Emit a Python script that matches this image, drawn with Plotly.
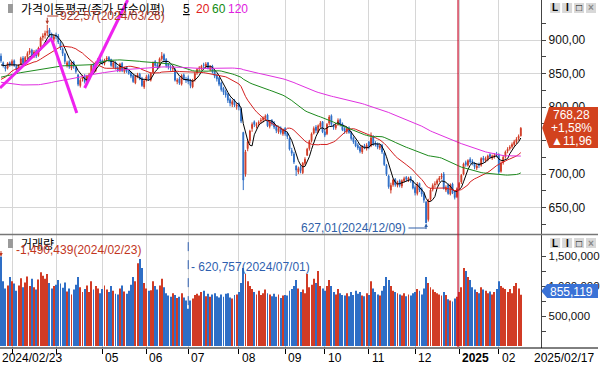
import plotly.graph_objects as go
import pandas as pd

# ---------------- data ----------------
holidays = ['2024-03-01', '2024-04-10', '2024-05-01', '2024-05-06', '2024-05-15', '2024-06-06',
            '2024-08-15', '2024-09-16', '2024-09-17', '2024-09-18', '2024-10-01', '2024-10-03',
            '2024-10-09', '2024-12-25', '2024-12-31', '2025-01-01', '2025-01-27', '2025-01-28',
            '2025-01-29', '2025-01-30']
first_day, last_day = '2024-02-23', '2025-02-17'

opens = [876, 866, 860, 858, 866, 864, 869, 861, 855, 864,
         873, 866, 875, 881, 885, 876, 884, 877, 890, 904,
         907, 911, 915, 909, 901, 907, 906, 896, 887, 879,
         862, 868, 858, 867, 859, 848, 832, 842, 846, 836,
         845, 849, 863, 854, 867, 871, 869, 865, 871, 874,
         871, 860, 867, 859, 854, 865, 853, 860, 854, 851,
         847, 836, 845, 849, 843, 830, 840, 847, 840, 852,
         868, 863, 860, 872, 878, 871, 864, 859, 857, 856,
         838, 842, 834, 848, 841, 843, 840, 830, 841, 851,
         857, 858, 863, 861, 866, 856, 861, 853, 847, 843,
         836, 828, 823, 819, 811, 804, 810, 801, 805, 797,
         762, 700, 738, 750, 768, 778, 772, 775, 779, 781,
         784, 788, 771, 780, 776, 771, 763, 769, 760, 768,
         761, 753, 735, 730, 712, 703, 710, 702, 716, 728,
         738, 750, 761, 770, 763, 771, 778, 763, 760, 776,
         787, 772, 769, 774, 781, 775, 768, 763, 769, 762,
         754, 749, 743, 740, 733, 742, 738, 748, 742, 756,
         746, 745, 739, 743, 731, 713, 697, 676, 684, 692,
         683, 690, 682, 690, 695, 691, 695, 689, 680, 671,
         686, 678, 670, 658, 632, 662, 677, 684, 686, 691,
         695, 700, 676, 683, 670, 685, 673, 666, 680, 688,
         700, 717, 713, 722, 719, 716, 709, 714, 713, 724,
         720, 722, 729, 724, 726, 730, 729, 704, 717, 726,
         734, 738, 741, 744, 748, 753, 757]
highs = [880, 868, 863, 867, 868, 871, 871, 863, 864, 875,
         876, 876, 883, 888, 887, 885, 886, 890, 905, 910,
         914, 922.57, 918, 911, 908, 911, 909, 898, 889, 881,
         869, 870, 868, 869, 861, 849, 843, 848, 849, 848,
         851, 864, 865, 868, 873, 874, 871, 872, 876, 876,
         872, 868, 868, 861, 866, 867, 860, 861, 857, 853,
         849, 848, 851, 851, 845, 841, 848, 849, 852, 868,
         870, 866, 874, 882, 880, 873, 866, 863, 861, 858,
         843, 845, 849, 850, 845, 847, 842, 842, 852, 858,
         861, 863, 866, 867, 867, 862, 863, 855, 849, 845,
         838, 830, 826, 821, 814, 811, 812, 806, 807, 799,
         763, 736, 752, 766, 777, 780, 777, 780, 784, 786,
         789, 790, 780, 782, 779, 773, 770, 771, 768, 770,
         763, 755, 739, 733, 713, 711, 713, 718, 725, 739,
         751, 762, 771, 773, 774, 779, 779, 766, 776, 788,
         789, 775, 776, 783, 783, 777, 770, 770, 771, 764,
         756, 751, 746, 742, 743, 745, 746, 749, 762, 758,
         749, 747, 745, 745, 733, 715, 699, 687, 693, 694,
         690, 692, 692, 696, 697, 696, 697, 691, 683, 688,
         687, 680, 673, 660, 663, 679, 686, 689, 693, 697,
         701, 703, 683, 686, 686, 687, 675, 680, 688, 700,
         717, 720, 722, 725, 722, 718, 715, 717, 725, 727,
         726, 729, 731, 729, 731, 733, 731, 719, 728, 735,
         740, 743, 747, 751, 755, 759, 770]
lows = [866, 859, 853, 856, 860, 861, 860, 852, 853, 862,
        863, 864, 872, 878, 874, 873, 873, 875, 887, 899,
        902, 906, 904, 899, 897, 901, 894, 885, 876, 864,
        859, 857, 855, 857, 850, 831, 829, 838, 835, 834,
        843, 847, 853, 852, 864, 865, 863, 862, 868, 867,
        860, 858, 856, 852, 852, 852, 850, 851, 848, 843,
        836, 834, 843, 840, 830, 827, 838, 839, 838, 850,
        860, 857, 858, 869, 867, 859, 856, 854, 853, 838,
        834, 833, 832, 840, 836, 834, 828, 828, 838, 848,
        853, 855, 858, 858, 856, 853, 850, 843, 838, 831,
        823, 818, 814, 806, 801, 800, 800, 796, 795, 776,
        676, 696, 734, 746, 763, 770, 768, 771, 775, 777,
        780, 770, 768, 772, 767, 761, 760, 759, 757, 757,
        752, 735, 727, 715, 697, 700, 701, 700, 713, 727,
        735, 747, 759, 761, 761, 769, 761, 755, 758, 773,
        771, 766, 766, 772, 771, 764, 760, 760, 760, 750,
        745, 740, 736, 731, 730, 737, 735, 737, 740, 742,
        741, 737, 736, 730, 712, 697, 678, 671, 681, 681,
        680, 680, 679, 687, 689, 688, 687, 677, 668, 668,
        673, 666, 657, 627.01, 629, 660, 674, 680, 683, 688,
        692, 677, 673, 669, 668, 670, 662, 664, 677, 685,
        698, 711, 711, 715, 713, 707, 706, 709, 711, 717,
        717, 719, 723, 721, 723, 725, 700, 702, 714, 723,
        731, 735, 738, 741, 745, 750, 756]
closes = [869, 862, 857, 865, 863, 868, 862, 856, 862, 872,
          866, 874, 880, 884, 877, 882, 876, 888, 903, 906,
          910, 913, 908, 903, 905, 905, 897, 888, 880, 868,
          866, 860, 866, 860, 853, 834, 840, 845, 838, 846,
          848, 862, 856, 866, 870, 868, 866, 870, 873, 870,
          862, 866, 858, 855, 864, 854, 858, 853, 850, 846,
          838, 846, 848, 842, 832, 839, 845, 842, 850, 866,
          862, 860, 872, 876, 870, 862, 860, 858, 858, 840,
          840, 836, 847, 842, 840, 838, 832, 840, 850, 856,
          858, 861, 862, 864, 858, 860, 852, 846, 842, 834,
          826, 822, 818, 810, 806, 808, 803, 803, 800, 779,
          691, 733, 748, 764, 774, 774, 774, 777, 780, 783,
          786, 772, 778, 775, 770, 765, 768, 762, 766, 760,
          756, 737, 731, 718, 706, 708, 705, 716, 722, 737,
          749, 760, 768, 765, 772, 776, 763, 758, 774, 785,
          774, 770, 773, 780, 774, 766, 764, 768, 762, 753,
          748, 742, 739, 734, 741, 740, 743, 740, 754, 745,
          744, 740, 742, 733, 714, 700, 681, 683, 691, 684,
          687, 683, 690, 693, 692, 694, 690, 679, 672, 684,
          676, 670, 661, 627.01, 661, 676, 683, 685, 690, 694,
          697, 678, 680, 671, 684, 672, 665, 678, 686, 698,
          715, 714, 720, 718, 717, 711, 712, 713, 723, 721,
          723, 727, 726, 727, 728, 728, 703, 716, 725, 733,
          737, 740, 744, 748, 752, 756.32, 768.28]
# closes before the first visible day (needed for the moving averages)
prior_closes = [925, 922, 920, 915, 918, 912, 905, 908, 896, 890, 885, 880, 882, 876, 870, 866, 860, 858, 852, 845, 843,
                830, 815, 801, 808, 812, 815, 810, 805, 812, 808, 800, 790, 780, 773, 765, 760, 750, 744, 760, 772,
                765, 776, 839, 815, 808, 805, 803, 800, 795, 800, 802, 810, 812, 808, 815, 820, 814, 818, 812, 810, 806, 808,
                810, 815, 822, 825, 830, 835, 833, 840, 845, 850, 852, 855, 852, 858, 860, 856, 862, 864, 866,
                878, 872, 875, 878, 872, 868, 860, 858, 862, 855, 850, 843, 838, 840, 845, 836, 834, 828, 835, 815, 805, 800,
                810, 825, 830, 835, 832, 840, 848, 855, 860, 858, 862, 865, 860, 858, 862]
# volume, thousands
volumes_k = [1490.439, 1080, 960, 1010, 1150, 1080, 1040, 920, 1010, 1130,
             980, 1060, 1160, 1000, 1120, 980, 940, 1110, 1230, 1170,
             1120, 1200, 1050, 960, 1000, 1020, 1100, 1040, 970, 1060,
             910, 960, 860, 940, 1020, 1150, 980, 900, 950, 1010,
             900, 1080, 940, 1000, 960, 880, 950, 1010, 940, 900,
             1000, 920, 870, 860, 960, 1010, 910, 870, 920, 1020,
             1150, 1080, 1380, 1450, 1300, 1050, 960, 920, 930, 1080,
             1000, 940, 1010, 1120, 980, 880, 840, 820, 880, 850,
             800, 820, 880, 810, 760, 620.757, 760, 790, 850, 870,
             840, 900, 920, 830, 870, 820, 860, 880, 830, 810,
             860, 820, 870, 880, 810, 790, 850, 860, 900, 1050,
             1300, 1200, 1080, 1000, 950, 900, 860, 920, 850, 880,
             940, 880, 860, 830, 870, 820, 860, 800, 840, 850,
             840, 920, 950, 1000, 1100, 960, 900, 940, 880, 1200,
             980, 1020, 1120, 1050, 1250, 1000, 960, 920, 1000, 1100,
             1000, 900, 860, 950, 880, 850, 840, 880, 830, 900,
             850, 920, 870, 900, 840, 830, 880, 850, 1080, 960,
             900, 860, 840, 920, 1000, 1150, 1100, 1000, 920, 900,
             880, 860, 840, 880, 830, 860, 840, 880, 900, 950,
             920, 860, 960, 1150, 1050, 980, 940, 900, 880, 860,
             840, 900, 850, 780, 760, 740, 790, 820, 900, 980,
             1300, 1250, 1150, 1100, 980, 940, 900, 880, 980, 940,
             920, 880, 910, 860, 900, 950, 1080, 1000, 970, 950,
             900, 950, 880, 1000, 1050, 960, 855.119]

ma_periods = [5, 20, 60, 120]
price_ticks = [650, 700, 750, 800, 850, 900]
vol_ticks = [500000, 1000000, 1500000]
month_labels = ['', '', '05', '06', '07', '08', '09', '10', '11', '12', '2025', '02']
# user-drawn trend lines: (trading-day index, price)
trendlines = [((-0.45, 828.4), (23.1, 903.0)),
              ((23.1, 900.0), (34.4, 791.0)),
              ((38.0, 828.4), (57.5, 959.7))]

# ---------------- derived ----------------
dates = [d for d in pd.bdate_range(first_day, last_day) if d.strftime('%Y-%m-%d') not in holidays]
n = len(closes)
xs = list(range(n))
month_idx = []
for i in range(1, min(n, len(dates))):
    if dates[i].month != dates[i - 1].month:
        month_idx.append(i)

allc = pd.Series(prior_closes + closes, dtype=float)
mas = {p: allc.rolling(p).mean().tolist()[-n:] for p in ma_periods}
volumes = [v * 1000 for v in volumes_k]

UP, DN = '#d13b25', '#2e6ec6'
MA_COL = {5: '#000000', 20: '#d42020', 60: '#1d8a1d', 120: '#e030e0'}
vol_cols = [UP if c >= o else DN for o, c in zip(opens, closes)]

W, H = 600, 366
BOT = 348
RIGHT = 543


def px(x):
    return x / W


def py(y):
    return (BOT - y) / BOT


def pval(y):
    return 900 - (y - 40) / 0.67


x_range = [-0.45, (RIGHT - 1) / 2.21]
price_range = [pval(234), pval(0)]
vol_range = [(346 - 348) / 60 * 1e6, (346 - 235) / 60 * 1e6]

fig = go.Figure()
fig.add_trace(go.Candlestick(
    x=xs, open=opens, high=highs, low=lows, close=closes,
    increasing=dict(line=dict(color=UP, width=1), fillcolor=UP),
    decreasing=dict(line=dict(color=DN, width=1), fillcolor=DN),
    whiskerwidth=0, xaxis='x', yaxis='y', hoverinfo='skip', showlegend=False))
for p in ma_periods:
    fig.add_trace(go.Scatter(x=xs, y=mas[p], mode='lines', line=dict(color=MA_COL[p], width=1),
                             xaxis='x', yaxis='y', hoverinfo='skip', showlegend=False))
for (a, b) in trendlines:
    fig.add_trace(go.Scatter(x=[a[0], b[0]], y=[a[1], b[1]], mode='lines',
                             line=dict(color='#ee22ee', width=3), xaxis='x', yaxis='y',
                             hoverinfo='skip', showlegend=False, cliponaxis=True))
fig.add_trace(go.Bar(x=xs, y=volumes, marker=dict(color=vol_cols, line=dict(width=0)), width=0.42,
                     xaxis='x2', yaxis='y2', hoverinfo='skip', showlegend=False))

GRID = '#d6d6d6'
AX = '#444444'
tickfont = dict(family='Liberation Sans, Arial, sans-serif', size=12, color='#111')

fig.update_layout(
    width=W, height=H, margin=dict(l=0, r=0, t=0, b=H - BOT),
    paper_bgcolor='white', plot_bgcolor='white', showlegend=False, hovermode=False,
    boxgap=0.45,
    xaxis=dict(domain=[0, px(RIGHT)], range=x_range, showticklabels=False, ticks='',
               tickmode='array', tickvals=month_idx, showgrid=True, gridcolor=GRID, gridwidth=1,
               zeroline=False, showline=False, rangeslider=dict(visible=False), anchor='y', fixedrange=True),
    yaxis=dict(domain=[py(234), 1], range=price_range, side='right', anchor='x',
               tickmode='array', tickvals=price_ticks, ticktext=[f'{v},00' for v in price_ticks],
               ticks='outside', ticklen=4, tickcolor=AX, tickfont=tickfont,
               minor=dict(tickmode='array', tickvals=[v + 25 for v in [600] + price_ticks], ticks='outside',
                          ticklen=4, tickcolor=AX, showgrid=False),
               showgrid=True, gridcolor=GRID, showline=True, linecolor=AX, linewidth=1, zeroline=False),
    xaxis2=dict(domain=[0, px(RIGHT)], range=x_range, showticklabels=False, ticks='outside', ticklen=5,
                tickcolor='#000', tickmode='array', tickvals=month_idx, showgrid=True, gridcolor=GRID,
                zeroline=False, showline=False, anchor='y2'),
    yaxis2=dict(domain=[0, py(235)], range=vol_range, side='right', anchor='x2',
                tickmode='array', tickvals=vol_ticks, ticktext=[f'{v:,}' for v in vol_ticks],
                ticks='outside', ticklen=4, tickcolor=AX,
                tickfont=dict(family='Liberation Sans, Arial, sans-serif', size=11.5, color='#111'),
                minor=dict(tickmode='array', tickvals=[250000, 750000, 1250000], ticks='outside', ticklen=4,
                           tickcolor=AX, showgrid=False),
                showgrid=False, showline=True, linecolor=AX, linewidth=1, zeroline=False),
)

shapes = []
# panel separator and bottom axis line
shapes.append(dict(type='line', xref='paper', yref='paper', x0=0, x1=1, y0=py(234.5), y1=py(234.5),
                   line=dict(color='#777', width=1.5)))
shapes.append(dict(type='line', xref='paper', yref='paper', x0=0, x1=1, y0=py(348), y1=py(348),
                   line=dict(color='#000', width=1)))
# red year-boundary line
yr_i = month_idx[-2] - 0.5 if len(month_idx) >= 2 else 207.5
shapes.append(dict(type='line', xref='x', yref='paper', x0=yr_i, x1=yr_i, y0=py(347), y1=1,
                   line=dict(color='#c8102e', width=1.2)))
# min-volume dashed line
min_i = volumes.index(min(volumes))
shapes.append(dict(type='line', xref='x2', yref='y2', x0=min_i, x1=min_i, y0=min(volumes) + 60000,
                   y1=vol_range[1], line=dict(color='#2f5fb0', width=1, dash='dash')))
# current price box
shapes.append(dict(type='path', xref='paper', yref='paper', layer='above',
                   path=f'M {px(544)} {py(128)} L {px(551)} {py(107)} L {px(600)} {py(107)} '
                        f'L {px(600)} {py(148)} L {px(551)} {py(148)} Z',
                   fillcolor='#d2421e', line=dict(width=0)))
# current volume box
shapes.append(dict(type='path', xref='paper', yref='paper', layer='above',
                   path=f'M {px(543)} {py(291)} L {px(549)} {py(284)} L {px(600)} {py(284)} '
                        f'L {px(600)} {py(298)} L {px(549)} {py(298)} Z',
                   fillcolor='#3a72d6', line=dict(width=0)))
# legend squares
for yy in (4, 239):
    shapes.append(dict(type='rect', xref='paper', yref='paper', x0=px(8), x1=px(13), y0=py(yy), y1=py(yy + 9),
                       fillcolor='#9a9a9a', line=dict(width=0)))
# window buttons
for yy in (3, 238):
    for k, bx in enumerate([552, 564, 576, 588]):
        shapes.append(dict(type='rect', xref='paper', yref='paper', x0=px(bx), x1=px(bx + 10),
                           y0=py(yy), y1=py(yy + 10), fillcolor='#d8d8d8', line=dict(width=0), layer='above'))
# high/low marker leader lines
hi_i = highs.index(max(highs))
lo_i = lows.index(min(lows))
shapes.append(dict(type='line', xref='x', yref='paper', x0=hi_i, x1=hi_i + 5, y0=py(16), y1=py(16),
                   line=dict(color='#b23a2a', width=1)))
shapes.append(dict(type='line', xref='x', yref='paper', x0=lo_i - 8, x1=lo_i, y0=py(228), y1=py(228),
                   line=dict(color='#2f5fa8', width=1)))
fig.update_layout(shapes=shapes)

ann = []
KR = 'Noto Sans CJK KR, sans-serif'
NUM = 'Liberation Sans, Arial, sans-serif'


def text(x, y, s, color='#000', size=12, family=NUM, xanchor='left', bold=False):
    ann.append(dict(xref='paper', yref='paper', x=px(x), y=py(y), text=f'<b>{s}</b>' if bold else s,
                    showarrow=False, xanchor=xanchor, yanchor='middle',
                    font=dict(color=color, size=size, family=family)))


text(19, 8.5, '가격이동평균(종가,단순이평)', size=12, family=KR)
text(182, 8.5, '<u>5</u>', size=12)
text(195, 8.5, '20', color='#e02020', size=12)
text(211, 8.5, '60', color='#108a10', size=12)
text(227, 8.5, '120', color='#e020e0', size=12)
text(19, 243.5, '거래량', size=12, family=KR)

hi_date = dates[hi_i].strftime('%Y/%m/%d') if hi_i < len(dates) else ''
lo_date = dates[lo_i].strftime('%Y/%m/%d') if lo_i < len(dates) else ''
mx_i = volumes.index(max(volumes))
mx_date = dates[mx_i].strftime('%Y/%m/%d') if mx_i < len(dates) else ''
mn_date = dates[min_i].strftime('%Y/%m/%d') if min_i < len(dates) else ''

text(58, 16, f'{max(highs):.2f}'.replace('.', ',') + f'({hi_date})', color='#b23a2a', size=12)
ann.append(dict(xref='x', yref='y', x=hi_i, y=max(highs) + 1, ax=0, ay=-8, showarrow=True, arrowhead=2,
                arrowsize=0.7, arrowwidth=1, arrowcolor='#b23a2a', text=''))
text(409, 228, f'{min(lows):.2f}'.replace('.', ',') + f'({lo_date})', color='#2f5fa8', size=12, xanchor='right')
ann.append(dict(xref='x', yref='y', x=lo_i, y=min(lows) - 1, ax=0, ay=7, showarrow=True, arrowhead=2,
                arrowsize=0.7, arrowwidth=1, arrowcolor='#2f5fa8', text=''))
text(14, 250, f'-{int(round(max(volumes))):,}({mx_date})', color='#c2361e', size=12)
ann.append(dict(xref='x2', yref='y2', x=mx_i, y=max(volumes), ax=0, ay=-7, showarrow=True, arrowhead=2,
                arrowsize=0.7, arrowwidth=1, arrowcolor='#c2361e', text=''))
text(190, 267, f'- {int(round(min(volumes))):,}({mn_date})', color='#2f5fb0', size=12)

# current price box texts
chg = closes[-1] - closes[-2]
pct = chg / closes[-2] * 100
text(573, 115, f'{closes[-1]:.2f}'.replace('.', ','), color='white', size=12, xanchor='center')
text(573, 128, f'+{pct:.2f}%'.replace('.', ','), color='white', size=12, xanchor='center')
text(573, 141, '▲' + f'{chg:.2f}'.replace('.', ','), color='white', size=12, xanchor='center')
text(573, 291.5, f'{int(round(volumes[-1])):,}', color='white', size=12, xanchor='center')

# buttons glyphs
for yy in (8, 243):
    for bx, g, col in [(557, 'L', '#000'), (569, 'I', '#000'), (581, '□', '#000'), (593, '×', '#888')]:
        ann.append(dict(xref='paper', yref='paper', x=px(bx), y=py(yy), text=f'<b>{g}</b>', showarrow=False,
                        xanchor='center', yanchor='middle', font=dict(size=10, color=col, family=NUM)))

# date labels
text(0, 358, dates[0].strftime('%Y/%m/%d'), size=12)
for lab, mi in zip(month_labels, month_idx):
    if not lab:
        continue
    xpix = 1 + 2.21 * mi
    text(xpix + 1, 358, lab, size=12, bold=(lab == '2025'))
text(598, 358, dates[min(n, len(dates)) - 1].strftime('%Y/%m/%d'), size=12, xanchor='right')

fig.update_layout(annotations=ann)
fig.write_html('out.html', config={'displayModeBar': False},
               post_script="document.body.style.margin='0';document.body.style.padding='0';"
                           "document.documentElement.style.overflow='hidden';")
